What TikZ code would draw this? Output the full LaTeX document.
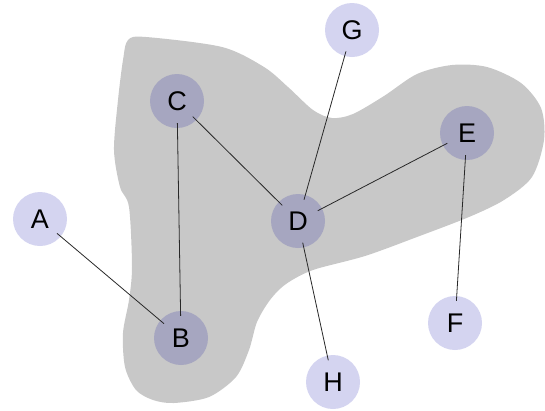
\documentclass[tikz,border=0pt]{standalone}
\usepackage{fontspec}
\setmainfont{Liberation Sans}
\usepackage{xcolor}
\definecolor{LightFill}{RGB}{212,212,240}
\definecolor{DarkFill}{RGB}{166,166,192}
\definecolor{RegionFill}{RGB}{200,200,200}
\definecolor{EdgeColor}{RGB}{40,40,40}
\usepackage{tikz}
\usetikzlibrary{positioning}
\tikzset{
  % Vertex outside the region
  vertex/.style={
    circle,
    fill=LightFill,
    minimum size=54pt,
    inner sep=0pt,
    font=\fontsize{27}{30}\selectfont
  },
  % Vertex inside the region
  dvertex/.style={
    vertex,
    fill=DarkFill
  },
  % Standard edge
  edge/.style={
    draw=EdgeColor,
    line width=0.8pt,
    shorten <=-5pt,
    shorten >=-5pt
  },
  % Shaded region
  region/.style={
    fill=RegionFill
  }
}

\begin{document}
\begin{tikzpicture}[x=1pt,y=-1pt]
  \useasboundingbox (0,0) rectangle (545,410);

  \fill[region] plot[smooth cycle, tension=0.5] coordinates {
    (128,40) (146,37) (222,47) (264,67) (288,87) (313,110) (332,118)
    (353,114) (384,96) (417,74) (452,65) (487,67) (521,83) (541,108)
    (544,140) (532,177) (504,200) (469,217) (417,237) (365,256)
    (313,270) (286,284) (270,300) (257,322) (249,350) (236,377)
    (209,397) (174,403) (153,400) (136,390) (125,367) (123,333)
    (129,300) (132,267) (129,207) (120,187) (114,150) (118,100) (123,60)};

  \node[vertex]  (a) at (40,219)  {A};
  \node[dvertex] (b) at (181,338) {B};
  \node[dvertex] (c) at (177,101) {C};
  \node[dvertex] (d) at (298,221) {D};
  \node[dvertex] (e) at (467,133) {E};
  \node[vertex]  (f) at (455,323) {F};
  \node[vertex]  (g) at (352,30)  {G};
  \node[vertex]  (h) at (333,382) {H};

  \draw[edge] (a) -- (b);
  \draw[edge] (c) -- (b);
  \draw[edge] (c) -- (d);
  \draw[edge] (g) -- (d);
  \draw[edge] (e) -- (d);
  \draw[edge] (d) -- (h);
  \draw[edge] (e) -- (f);
\end{tikzpicture}
\end{document}
